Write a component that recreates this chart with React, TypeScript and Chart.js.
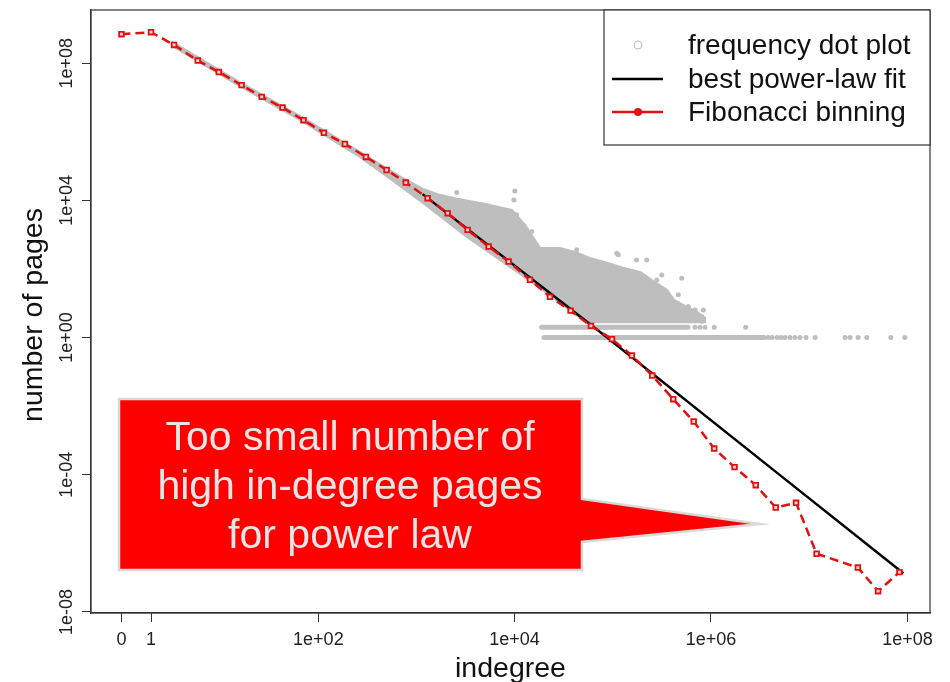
import React, { useEffect, useRef } from "react";
import { Chart, registerables } from "chart.js";

Chart.register(...registerables);

// ---------- axis ticks ----------
const xTickValues = [0, 1, 100, 1e4, 1e6, 1e8];
const xTickLabels = ["0", "1", "1e+02", "1e+04", "1e+06", "1e+08"];
const yTickValues = [1e-8, 1e-4, 1, 1e4, 1e8];
const yTickLabels = ["1e-08", "1e-04", "1e+00", "1e+04", "1e+08"];

const xTitle = "indegree";
const yTitle = "number of pages";

const legendLabels = ["frequency dot plot", "best power-law fit", "Fibonacci binning"];
const calloutLines = ["Too small number of", "high in-degree pages", "for power law"];

// ---------- Fibonacci binning ----------
const fibIndegree = [
  0, 1, 2.43, 4.98, 8.79, 15.7, 25.8, 42.6, 70.3, 114, 187, 307, 499, 784, 1305,
  2089, 3337, 5458, 8730, 14390, 23000, 37300, 60100, 98400, 157000, 253000,
  414000, 668000, 1.08e6, 1.74e6, 2.86e6, 4.57e6, 7.36e6, 1.19e7, 3.13e7, 5.03e7, 8.3e7,
];
const fibPages = [
  7.0e8, 8.0e8, 3.4e8, 1.19e8, 5.5e7, 2.29e7, 1.04e7, 5.08e6, 2.18e6, 9.3e5, 4.4e5,
  1.85e5, 7.7e4, 3.3e4, 1.16e4, 4240, 1380, 450, 164, 48.4, 15.4, 6.1, 2.19, 0.9,
  0.3, 0.078, 0.016, 0.00356, 5.8e-4, 1.67e-4, 4.98e-5, 1.11e-5, 1.52e-5, 5.0e-7,
  1.97e-7, 4.04e-8, 1.45e-7,
];

// ---------- best power-law fit ----------
const fitIndegree = [1160, 7.4e4, 4.32e6, 9.1e7];
const fitPages = [1.52e4, 1.47, 1.39e-4, 1.35e-7];

// ---------- frequency dot plot: dense cloud outline (upper edge, then lower edge back) ----------
const cloudIndegree = [
  2.25, 15.0, 64.3, 266, 682, 1170, 1742, 2600, 5620, 9440, 1.28e4, 1.82e4, 2.91e4,
  4.13e4, 5.87e4, 8.75e4, 1.27e5, 1.9e5, 2.57e5, 3.57e5, 4.21e5, 5.45e5, 7.21e5, 8.71e5,
  8.71e5, 5.87e4, 4.65e4, 2.91e4, 1.82e4, 9000, 3280, 1170, 682, 266, 64.3, 15.0, 2.25,
];
const cloudPages = [
  4.24e8, 2.79e7, 2.89e6, 2.61e5, 5.0e4, 2.16e4, 1.45e4, 1.11e4, 7400, 5280, 1930,
  412, 412, 315, 211, 151, 108, 82, 45, 24.6, 12.6, 8.4, 5.6, 3.75,
  2.8, 2.8, 3.75, 10.3, 28, 115, 863, 8450, 2.65e4, 1.85e5, 2.21e6, 2.13e7, 3.22e8,
];

// rows of pages = 2 and pages = 1
const row2Indegree = [1.89e4, 5.85e5];
const row2Pages = [2, 2];
const row1Indegree = [2.0e4, 3.4e6];
const row1Pages = [1, 1];

// scattered single dots
const dotIndegree = [
  2580, 1.01e4, 9880, 1.05e4, 8650, 7690, 1.33e4, 1.5e4, 4.3e4, 1.14e5, 1.1e5, 1.75e5,
  2.22e5, 3.16e5, 2.81e5, 5.05e5, 4.66e5, 5.89e5, 6.89e5, 8.37e5, 8.05e5, 8.1e5,
  6.89e5, 7.74e5, 8.71e5, 1.08e6, 2.26e6,
  3.47e6, 3.82e6, 4.19e6, 4.71e6, 5.18e6, 5.69e6, 6.39e6, 7.18e6, 8.07e6, 9.29e6,
  1.15e7, 2.32e7, 2.61e7, 3.15e7, 3.86e7, 6.78e7, 9.42e7,
];
const dotPages = [
  1.71e4, 1.89e4, 1.03e4, 3780, 3030, 1550, 1110, 1230, 361, 258, 289, 184,
  184, 67, 48, 54, 17.6, 8.0, 6.4, 6.4, 4.1, 3,
  2, 2, 2, 2, 2,
  1, 1, 1, 1, 1, 1, 1, 1, 1, 1,
  1, 1, 1, 1, 1, 1, 1,
];

const FONT = "'Liberation Sans', Arial, sans-serif";
const GRAY = "#bebebe";
const RED = "#e41010";

const toXY = (xs: number[], ys: number[]) =>
  xs.map((x, i) => ({ x: Math.log10(x + 1), y: Math.log10(ys[i]) }));

const decorPlugin = {
  id: "decor",
  afterDraw(chart: any) {
    const ctx = chart.ctx;
    const area = chart.chartArea;
    const xs = chart.scales.x;
    const ys = chart.scales.y;
    ctx.save();
    // frame
    ctx.strokeStyle = "#333";
    ctx.lineWidth = 1.2;
    ctx.strokeRect(area.left, area.top, area.right - area.left, area.bottom - area.top);

    // x tick labels
    ctx.fillStyle = "#222";
    ctx.font = `18px ${FONT}`;
    ctx.textAlign = "center";
    ctx.textBaseline = "alphabetic";
    xTickValues.forEach((v, i) => {
      const px = xs.getPixelForValue(Math.log10(v + 1));
      ctx.fillText(xTickLabels[i], px, 645);
    });
    // y tick labels (rotated)
    yTickValues.forEach((v, i) => {
      const py = ys.getPixelForValue(Math.log10(v));
      ctx.save();
      ctx.translate(72, py);
      ctx.rotate(-Math.PI / 2);
      ctx.fillText(yTickLabels[i], 0, 0);
      ctx.restore();
    });

    // axis titles
    ctx.fillStyle = "#111";
    ctx.font = `28.5px ${FONT}`;
    ctx.fillText(xTitle, (area.left + area.right) / 2, 677);
    ctx.save();
    ctx.translate(42, 315);
    ctx.rotate(-Math.PI / 2);
    ctx.fillText(yTitle, 0, 0);
    ctx.restore();

    // legend
    const lx = 604, ly = 10, lw = area.right - 604, lh = 135;
    ctx.fillStyle = "#fff";
    ctx.fillRect(lx, ly, lw, lh);
    ctx.strokeStyle = "#333";
    ctx.lineWidth = 1.2;
    ctx.strokeRect(lx, ly, lw, lh);
    const rowsY = [45, 79, 112];
    ctx.strokeStyle = GRAY;
    ctx.lineWidth = 1;
    ctx.beginPath();
    ctx.arc(638, rowsY[0], 4, 0, Math.PI * 2);
    ctx.stroke();
    ctx.strokeStyle = "#000";
    ctx.lineWidth = 2.5;
    ctx.beginPath();
    ctx.moveTo(612, rowsY[1]);
    ctx.lineTo(663, rowsY[1]);
    ctx.stroke();
    ctx.strokeStyle = RED;
    ctx.beginPath();
    ctx.moveTo(612, rowsY[2]);
    ctx.lineTo(663, rowsY[2]);
    ctx.stroke();
    ctx.fillStyle = RED;
    ctx.beginPath();
    ctx.arc(638, rowsY[2], 4, 0, Math.PI * 2);
    ctx.fill();
    ctx.fillStyle = "#111";
    ctx.font = `28px ${FONT}`;
    ctx.textAlign = "left";
    ctx.textBaseline = "middle";
    legendLabels.forEach((t, i) => ctx.fillText(t, 688, rowsY[i] + 1));

    // callout
    ctx.beginPath();
    ctx.moveTo(119, 399);
    ctx.lineTo(582, 399);
    ctx.lineTo(582, 499);
    ctx.lineTo(760, 524);
    ctx.lineTo(582, 542);
    ctx.lineTo(582, 570);
    ctx.lineTo(119, 570);
    ctx.closePath();
    ctx.fillStyle = "#fe0000";
    ctx.fill();
    ctx.strokeStyle = "#d9d9d9";
    ctx.lineWidth = 2.5;
    ctx.stroke();
    ctx.fillStyle = "#e6e6e6";
    ctx.font = `41px ${FONT}`;
    ctx.textAlign = "center";
    ctx.textBaseline = "alphabetic";
    const bl = [450, 499, 548];
    calloutLines.forEach((t, i) => ctx.fillText(t, 350, bl[i]));
    ctx.restore();
  },
};

export default function App() {
  const ref = useRef<HTMLCanvasElement | null>(null);
  useEffect(() => {
    if (!ref.current) return;
    const chart = new Chart(ref.current, {
      type: "line",
      data: {
        datasets: [
          {
            label: "Fibonacci binning",
            data: toXY(fibIndegree, fibPages),
            borderColor: RED,
            borderWidth: 2.5,
            borderDash: [9, 5],
            pointStyle: "rect",
            pointRadius: 3.3,
            pointBorderWidth: 1.8,
            pointBorderColor: RED,
            pointBackgroundColor: "#ffd6d6",
            fill: false,
            order: 0,
          } as any,
          {
            label: "best power-law fit",
            data: toXY(fitIndegree, fitPages),
            borderColor: "#000",
            borderWidth: 2.5,
            pointRadius: 0,
            fill: false,
            order: 1,
          },
          {
            label: "cloud",
            data: toXY(cloudIndegree, cloudPages),
            borderColor: GRAY,
            borderWidth: 2,
            borderJoinStyle: "round",
            backgroundColor: GRAY,
            pointRadius: 0,
            fill: "shape",
            order: 2,
          } as any,
          {
            label: "row2",
            data: toXY(row2Indegree, row2Pages),
            borderColor: GRAY,
            borderWidth: 5,
            borderCapStyle: "round",
            pointRadius: 0,
            fill: false,
            order: 3,
          },
          {
            label: "row1",
            data: toXY(row1Indegree, row1Pages),
            borderColor: GRAY,
            borderWidth: 5,
            borderCapStyle: "round",
            pointRadius: 0,
            fill: false,
            order: 4,
          },
          {
            label: "frequency dot plot",
            data: toXY(dotIndegree, dotPages),
            showLine: false,
            pointRadius: 2.5,
            pointBorderWidth: 0,
            pointBackgroundColor: GRAY,
            pointBorderColor: GRAY,
            order: 5,
          },
        ],
      },
      options: {
        animation: false,
        responsive: false,
        devicePixelRatio: 1,
        layout: { padding: { left: 0, right: 20, top: 10, bottom: 0 } },
        plugins: { legend: { display: false }, tooltip: { enabled: false } },
        scales: {
          x: {
            type: "linear",
            min: -0.31,
            max: 8.23,
            afterBuildTicks: (s: any) => {
              s.ticks = xTickValues.map((v) => ({ value: Math.log10(v + 1) }));
            },
            afterFit: (s: any) => {
              s.height = 69;
            },
            ticks: { display: false },
            grid: { drawOnChartArea: false, drawTicks: true, tickLength: 9, color: "#333" },
            border: { display: true, color: "#333", width: 1.2 },
          },
          y: {
            type: "linear",
            min: -8.03,
            max: 9.55,
            afterBuildTicks: (s: any) => {
              s.ticks = yTickValues.map((v) => ({ value: Math.log10(v) }));
            },
            afterFit: (s: any) => {
              s.width = 91;
            },
            ticks: { display: false },
            grid: { drawOnChartArea: false, drawTicks: true, tickLength: 9, color: "#333" },
            border: { display: true, color: "#333", width: 1.2 },
          },
        },
      } as any,
      plugins: [decorPlugin],
    });
    return () => chart.destroy();
  }, []);
  return (
    <div style={{ position: "absolute", left: 0, top: 0, width: 950, height: 682, background: "#fff" }}>
      <canvas ref={ref} width={950} height={682} />
    </div>
  );
}
